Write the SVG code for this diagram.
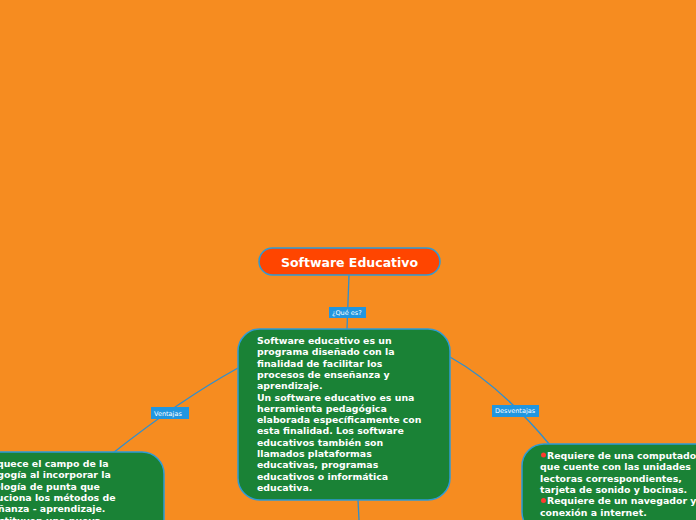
<svg xmlns="http://www.w3.org/2000/svg" width="696" height="520" viewBox="0 0 696 520">
<style>
.n{fill:#1a8236;stroke:#2e9bd6;stroke-width:1.5}
.t{font-family:"DejaVu Sans",sans-serif;font-weight:bold;font-size:9.4px;fill:#fff}
.l{fill:#2196e0}
.lt{font-family:"DejaVu Sans",sans-serif;font-size:6.5px;fill:#fff}
.c{fill:none;stroke:#2e8fd0;stroke-width:1.3}
.b{fill:#ff3b30}
</style>
<rect width="696" height="520" fill="#f68c20"/>
<g id="connectors">
<path class="c" d="M349 275 L347 329"/>
<path class="c" d="M238 368 Q180 400 113 453"/>
<path class="c" d="M450 357 Q500 385 550 445"/>
<path class="c" d="M358 500 L359 520"/>
<rect class="l" x="329" y="307" width="37" height="11"/><text class="lt" x="332" y="315">¿Qué es?</text>
<rect class="l" x="151" y="407" width="38" height="12"/><text class="lt" x="154" y="416">Ventajas</text>
<rect class="l" x="492" y="405" width="47" height="12"/><text class="lt" x="495" y="413">Desventajas</text>
</g>
<g id="title">
<rect x="259" y="248" width="181" height="27" rx="13.5" fill="#ff4500" stroke="#2e9bd6" stroke-width="1.5"/>
<text x="349.5" y="267" text-anchor="middle" font-family="DejaVu Sans,sans-serif" font-weight="bold" font-size="12.5" fill="#fff">Software Educativo</text>
</g>
<g id="que-es">
<rect class="n" x="238" y="329" width="212" height="171" rx="22"/>
<text class="t"><tspan x="257" y="344">Software educativo es un</tspan><tspan x="257" dy="11.3">programa diseñado con la</tspan><tspan x="257" dy="11.3">finalidad de facilitar los</tspan><tspan x="257" dy="11.3">procesos de enseñanza y</tspan><tspan x="257" dy="11.3">aprendizaje.</tspan><tspan x="257" dy="11.3">Un software educativo es una</tspan><tspan x="257" dy="11.3">herramienta pedagógica</tspan><tspan x="257" dy="11.3">elaborada específicamente con</tspan><tspan x="257" dy="11.3">esta finalidad. Los software</tspan><tspan x="257" dy="11.3">educativos también son</tspan><tspan x="257" dy="11.3">llamados plataformas</tspan><tspan x="257" dy="11.3">educativas, programas</tspan><tspan x="257" dy="11.3">educativos o informática</tspan><tspan x="257" dy="11.3">educativa.</tspan></text>
</g>
<g id="ventajas">
<rect class="n" x="-40" y="452" width="204" height="90" rx="22"/>
<text class="t"><tspan x="-24" y="467">Enriquece el campo de la</tspan><tspan x="-29" dy="11.3">Pedagogía al incorporar la</tspan><tspan x="-29" dy="11.3">tecnología de punta que</tspan><tspan x="-30" dy="11.3">revoluciona los métodos de</tspan><tspan x="-27" dy="11.3">enseñanza - aprendizaje.</tspan><tspan x="-21" dy="11.3">Constituyen una nueva</tspan></text>
</g>
<g id="desventajas">
<rect class="n" x="522" y="444" width="210" height="90" rx="22"/>
<circle class="b" cx="543.5" cy="455" r="2.5"/><circle class="b" cx="543.5" cy="500.5" r="2.5"/>
<text class="t"><tspan x="547" y="459">Requiere de una computadora</tspan><tspan x="540" dy="11.3">que cuente con las unidades</tspan><tspan x="540" dy="11.3">lectoras correspondientes,</tspan><tspan x="540" dy="11.3">tarjeta de sonido y bocinas.</tspan><tspan x="547" dy="11.3">Requiere de un navegador y</tspan><tspan x="540" dy="11.3">conexión a internet.</tspan></text>
</g>
</svg>
